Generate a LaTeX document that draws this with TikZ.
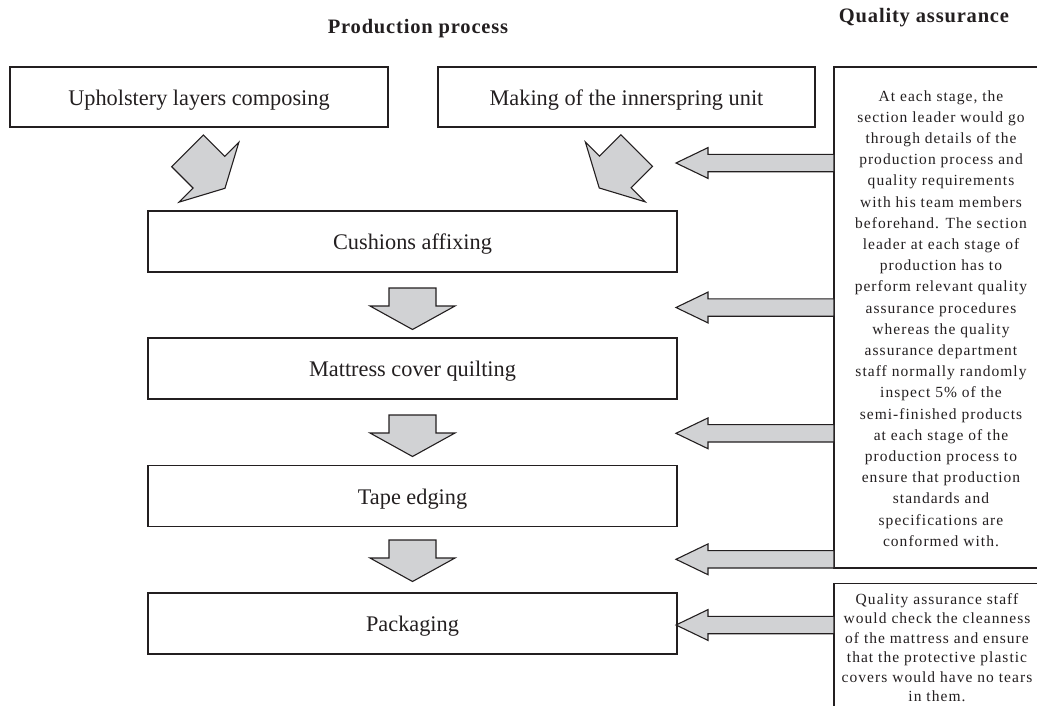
\documentclass[tikz,border=0pt]{standalone}
\usepackage{fontspec}
\setmainfont{Liberation Serif}
\newfontfamily\qafont[LetterSpace=6.7]{Liberation Serif}
\newfontfamily\headfont[LetterSpace=4]{Liberation Serif}
\definecolor{ink}{HTML}{231F20}
\definecolor{arrowfill}{HTML}{D1D2D4}

% block arrow: tail midpoint, direction, shaft length, head length,
% shaft half-width, head half-width
\newcommand{\blockarrow}[6]{%
  \begin{scope}[shift={#1}, rotate=#2]
    \draw[blockfill] (0,-#5) -- (#3,-#5) -- (#3,-#6) -- ({#3+#4},0)
      -- (#3,#6) -- (#3,#5) -- (0,#5) -- cycle;
  \end{scope}}

\begin{document}
\begin{tikzpicture}[x=1pt, y=-1pt,
    every node/.style={text=ink},
    stage/.style={draw=ink, line width=1.2pt, inner sep=0pt,
      text height=16pt, text depth=0pt,
      font=\fontsize{22.3}{26}\selectfont},
    qabox/.style={draw=ink, line width=1.2pt, inner sep=0pt},
    qatext/.style={align=center, font=\qafont\fontsize{15.5}{21.2}\selectfont},
    heading/.style={font=\headfont\fontsize{20.5}{24}\selectfont\bfseries, anchor=base},
    blockfill/.style={draw=ink, fill=arrowfill, line width=1.1pt, line join=miter}]
  \useasboundingbox (0,0) rectangle (1037,705);
  \clip (0,0) rectangle (1037,705);

  % headings
  \node[heading] (hprod) at (418,33) {Production process};
  \node[heading] (hqa) at (924,22.5) {Quality assurance};

  % production stages
  \node[stage, minimum width=378pt, minimum height=60pt] (up) at (199,97) {Upholstery layers composing};
  \node[stage, minimum width=377pt, minimum height=60pt] (mk) at (626.5,97) {Making of the innerspring unit};
  \node[stage, minimum width=529pt, minimum height=61pt] (cu) at (412.5,241.5) {Cushions affixing};
  \node[stage, minimum width=529pt, minimum height=61pt] (mq) at (412.5,368.5) {Mattress cover quilting};
  \node[stage, minimum width=529pt, minimum height=61pt] (te) at (412.5,496) {Tape edging};
  \node[stage, minimum width=529pt, minimum height=61pt] (pk) at (412.5,623.5) {Packaging};

  % quality assurance boxes
  \node[qabox, minimum width=212pt, minimum height=501pt] (qa1) at (940,317.5) {};
  \node[qatext] (qa1t) at (941,318.5) {At each stage, the\\ section leader would go\\ through details of the\\
    production process and\\ quality requirements\\ with his team members\\ beforehand. The section\\
    leader at each stage of\\ production has to\\ perform relevant quality\\ assurance procedures\\
    whereas the quality\\ assurance department\\ staff normally randomly\\ inspect 5\% of the\\
    semi-finished products\\ at each stage of the\\ production process to\\ ensure that production\\
    standards and\\ specifications are\\ conformed with.};
  \node[qabox, minimum width=212pt, minimum height=160pt, anchor=north] (qa2) at (940,582.5) {};
  \node[qatext, anchor=north, font=\qafont\fontsize{15.5}{19.4}\selectfont] (qa2t) at (937,590) {Quality assurance staff\\ would check the cleanness\\
    of the mattress and ensure\\ that the protective plastic\\ covers would have no tears\\ in them.};

  % arrows feeding the first assembly stage
  \blockarrow{(187.5,150.8)}{-45}{30.3}{22.7}{22.4}{42.3}
  \blockarrow{(636.7,150.5)}{-135}{30.3}{22.7}{22.4}{42.3}

  % arrows between the stages
  \blockarrow{(412.5,288)}{-90}{18}{23.5}{23.5}{42.5}
  \blockarrow{(412.5,415)}{-90}{18}{23.5}{23.5}{42.5}
  \blockarrow{(412.5,540)}{-90}{18}{23.5}{23.5}{42.5}

  % arrows from quality assurance
  \blockarrow{(834,163)}{180}{126}{32}{8.7}{15.4}
  \blockarrow{(834,307.5)}{180}{126}{32}{8.7}{15.4}
  \blockarrow{(834,433.3)}{180}{126}{32}{8.7}{15.4}
  \blockarrow{(834,559.3)}{180}{126}{32}{8.7}{15.4}
  \blockarrow{(834,625)}{180}{126}{32}{8.7}{15.4}
\end{tikzpicture}
\end{document}
